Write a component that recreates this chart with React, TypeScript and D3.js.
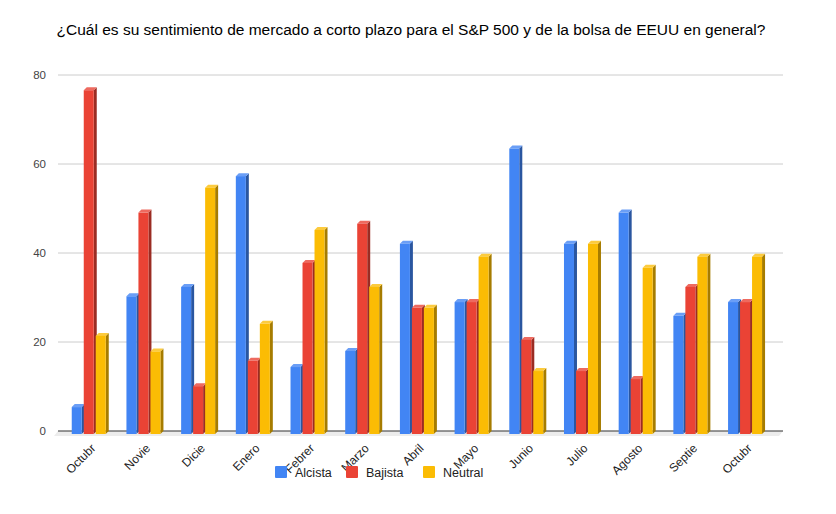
import React, { useRef, useEffect } from 'react';
import * as d3 from 'd3';

const months = ['Octubr', 'Novie', 'Dicie', 'Enero', 'Febrer', 'Marzo', 'Abril', 'Mayo', 'Junio', 'Julio', 'Agosto', 'Septie', 'Octubr'];
const seriesNames = ['Alcista', 'Bajista', 'Neutral'];
const alcista = [5.6, 30.5, 32.6, 57.5, 14.6, 18.2, 42.3, 29.2, 63.7, 42.3, 49.3, 26.1, 29.2];
const bajista = [76.8, 49.3, 10.3, 16.0, 38.0, 46.8, 27.9, 29.2, 20.7, 13.7, 11.9, 32.6, 29.2];
const neutral = [21.6, 18.1, 54.9, 24.3, 45.4, 32.6, 27.9, 39.4, 13.7, 42.3, 36.9, 39.4, 39.4];
const yTicks = [0, 20, 40, 60, 80];

const colors = ['#4285f4', '#ea4335', '#fbbc04'];
const sideColors = ['#2a56a0', '#9b2c23', '#a67c00'];
const topColors = ['#6a9ef6', '#ee6a5f', '#fccb3e'];

const FONT = '"Liberation Sans", Arial, sans-serif';

const App: React.FC = () => {
    const svgRef = useRef<SVGSVGElement | null>(null);

    useEffect(() => {
        if (!svgRef.current) return;
        const width = 836;
        const height = 514;
        const left = 58;
        const right = 783;
        const depth = 3;

        const svg = d3.select(svgRef.current);
        svg.selectAll('*').remove();

        svg.append('rect').attr('width', width).attr('height', height).attr('fill', '#fff');

        const y = d3.scaleLinear().domain([0, 80]).range([431, 75]);

        const x0 = d3
            .scaleBand<number>()
            .domain(d3.range(months.length))
            .range([63, 774])
            .paddingInner(0.32)
            .paddingOuter(0.16);

        const x1 = d3.scaleBand<number>().domain([0, 1, 2]).range([0, 36]);
        const barW = x1.bandwidth() - 2;

        // title
        svg.append('text')
            .attr('x', 411)
            .attr('y', 35)
            .attr('text-anchor', 'middle')
            .attr('font-family', FONT)
            .attr('font-size', 15.5)
            .attr('fill', '#000')
            .text('¿Cuál es su sentimiento de mercado a corto plazo para el S&P 500 y de la bolsa de EEUU en general?');

        // grid
        svg.append('g')
            .selectAll('line')
            .data(yTicks.filter(d => d > 0))
            .join('line')
            .attr('x1', left)
            .attr('x2', right)
            .attr('y1', d => y(d))
            .attr('y2', d => y(d))
            .attr('stroke', '#cccccc')
            .attr('stroke-width', 1);

        svg.append('g')
            .selectAll('text')
            .data(yTicks)
            .join('text')
            .attr('x', 46)
            .attr('y', d => y(d) + 4)
            .attr('text-anchor', 'end')
            .attr('font-family', FONT)
            .attr('font-size', 11.5)
            .attr('fill', '#444')
            .text(d => d);

        // floor
        svg.append('path')
            .attr('d', `M${left},${y(0)} L${right},${y(0)} L${right - 4},${y(0) + 5} L${left - 4},${y(0) + 5} Z`)
            .attr('fill', '#ececec');

        svg.append('line')
            .attr('x1', left)
            .attr('x2', right)
            .attr('y1', y(0))
            .attr('y2', y(0))
            .attr('stroke', '#333')
            .attr('stroke-width', 1.2);

        const all = [alcista, bajista, neutral];
        const bars = months.flatMap((_, i) => all.map((s, k) => ({ i, k, v: s[i] })));

        const g = svg.append('g');
        bars.forEach(b => {
            const bx = (x0(b.i) as number) + (x1(b.k) as number);
            const top = y(b.v) + 1;
            const bottom = y(0) + 3;
            // side face
            g.append('path')
                .attr('d', `M${bx + barW},${top} L${bx + barW + depth},${top - depth} L${bx + barW + depth},${bottom - depth} L${bx + barW},${bottom} Z`)
                .attr('fill', sideColors[b.k]);
            // top cap
            g.append('path')
                .attr('d', `M${bx},${top} L${bx + depth},${top - depth} L${bx + barW + depth},${top - depth} L${bx + barW},${top} Z`)
                .attr('fill', topColors[b.k]);
            // front
            g.append('rect')
                .attr('x', bx)
                .attr('y', top)
                .attr('width', barW)
                .attr('height', bottom - top)
                .attr('fill', colors[b.k]);
        });

        // x labels
        svg.append('g')
            .selectAll('text')
            .data(months)
            .join('text')
            .attr('transform', (_, i) => `translate(${(x0(i) as number) + x0.bandwidth() / 2 + 6},${449}) rotate(-45)`)
            .attr('text-anchor', 'end')
            .attr('font-family', FONT)
            .attr('font-size', 12)
            .attr('fill', '#222')
            .text(d => d);

        // legend
        const legendX = [275, 346, 423];
        const lg = svg.append('g');
        seriesNames.forEach((name, k) => {
            lg.append('rect')
                .attr('x', legendX[k])
                .attr('y', 466)
                .attr('width', 12)
                .attr('height', 12)
                .attr('rx', 1)
                .attr('fill', colors[k]);
            lg.append('text')
                .attr('x', legendX[k] + 20)
                .attr('y', 476.5)
                .attr('font-family', FONT)
                .attr('font-size', 12.5)
                .attr('fill', '#222')
                .text(name);
        });
    }, []);

    return <svg ref={svgRef} width={836} height={514} style={{ display: 'block', position: 'absolute', left: 0, top: 0 }} />;
};

export default App;
